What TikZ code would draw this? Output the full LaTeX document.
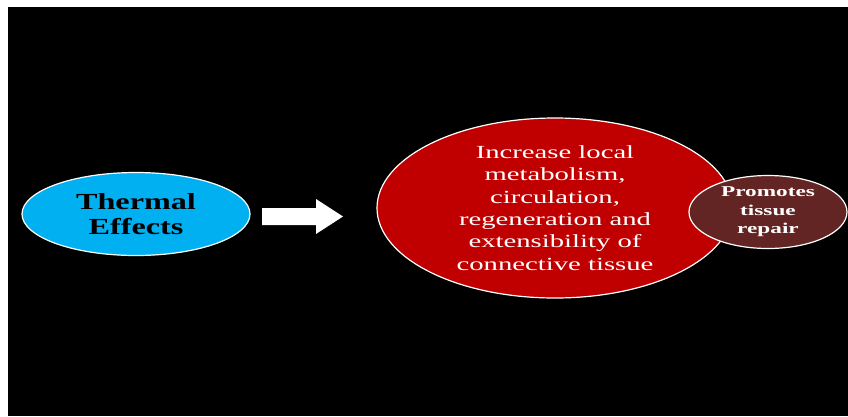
\documentclass[tikz,border=0pt]{standalone}
\usepackage{fontspec}
\setmainfont{Liberation Serif}
\newfontfamily\wideA[FakeStretch=1.4]{Liberation Serif}
\newfontfamily\wideB[FakeStretch=1.55]{Liberation Serif}
\newfontfamily\wideC[FakeStretch=1.55]{Liberation Serif}
\usetikzlibrary{shapes.geometric}
\definecolor{thermal}{HTML}{00B0F0}
\definecolor{bigred}{HTML}{C00000}
\definecolor{brown}{HTML}{632523}
\tikzset{
  oval/.style={ellipse, draw=white, line width=1.2pt, inner sep=0pt, align=center},
}
\begin{document}
\begin{tikzpicture}[x=1pt,y=-1pt]
\useasboundingbox (0,0) rectangle (848,416);
\fill[white] (0,0) rectangle (848,416);
\fill[black] (8,7) rectangle (848,416);
\node[oval, fill=thermal, minimum width=228pt, minimum height=83pt,
  font=\wideA\fontsize{23}{25}\selectfont\bfseries, text=black] (thermal) at (136,214) {Thermal\\Effects};
\node[oval, fill=bigred, minimum width=356pt, minimum height=180pt,
  font=\wideB\fontsize{18.5}{22.3}\selectfont, text=white] (big) at (555,208)
  {Increase local\\metabolism,\\circulation,\\regeneration and\\extensibility of\\connective tissue};
\node[oval, fill=brown, minimum width=158pt, minimum height=73pt,
  font=\wideC\fontsize{15}{18.5}\selectfont\bfseries, text=white] (repair) at (768,212)
  {Promotes\\tissue\\repair};
\fill[white] (262,208) -- (316,208) -- (316,199) -- (343,216.5) -- (316,234) -- (316,225) -- (262,225) -- cycle;
\end{tikzpicture}
\end{document}
